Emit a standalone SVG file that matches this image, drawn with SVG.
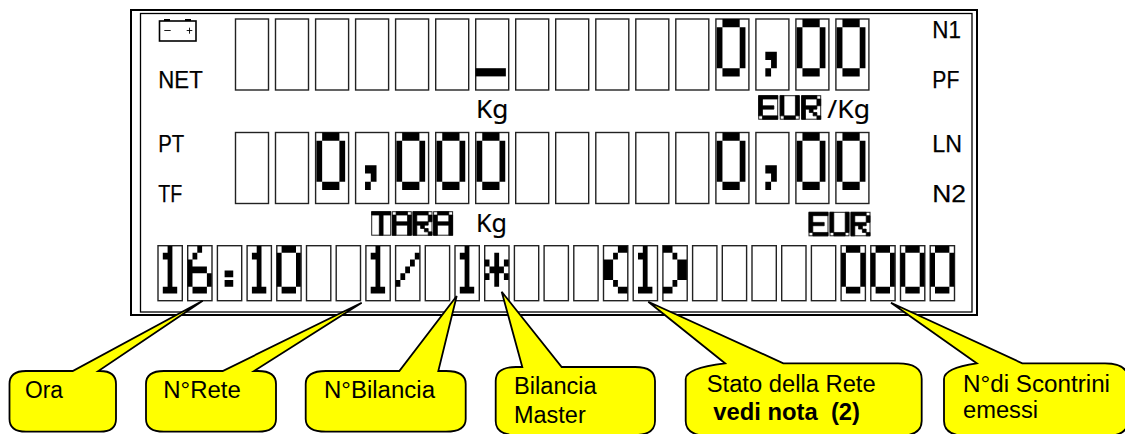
<svg xmlns="http://www.w3.org/2000/svg" width="1125" height="434" viewBox="0 0 1125 434">
<style>
.c{fill:#fff;stroke:#222;stroke-width:1.4}
.s{fill:none;stroke:#222;stroke-width:1}
.g{fill:#000}
.lcd{font-family:"Liberation Sans",Arial,sans-serif;font-size:24.5px;fill:#000;stroke:#000;stroke-width:.25}
.kg{font-family:"Noto Sans","Liberation Sans",sans-serif;font-size:24.5px;fill:#000;stroke:#000;stroke-width:.15}
.small{stroke:#000;stroke-width:.2}
.cal{fill:#ff0;stroke:#000;stroke-width:1.8;stroke-linejoin:miter}
.t{font-family:"Liberation Sans",Arial,sans-serif;font-size:23.5px;fill:#000;white-space:pre}
.b{font-weight:bold}
</style>
<defs>
<rect id="c1" width="33" height="71" class="c"/>
<rect id="c3" width="24.3" height="55" class="c"/>
<rect id="s" width="19" height="23.5" class="s"/>
<path id="g0" class="g" d="M1 0h3v1h-3zM0 1h1v5h-1zM4 1h1v5h-1zM1 6h3v1h-3z"/>
<path id="g1" class="g" d="M2 0h1v1h-1zM1 1h2v1h-2zM2 2h1v4h-1zM1 6h3v1h-3z"/>
<path id="g6" class="g" d="M2 0h1v1h-1zM1 1h1v1h-1zM0 2h1v1h-1zM0 3h4v1h-4zM0 4h1v2h-1zM4 4h1v2h-1zM1 6h3v1h-3z"/>
<path id="gcolon" class="g" d="M1.5 3.6h1.8v1h-1.8zM1.5 5h1.8v1h-1.8z"/>
<path id="gslash" class="g" d="M4 1h1v1h-1zM3 2h1v1h-1zM2 3h1v1h-1zM1 4h1v1h-1zM0 5h1v1h-1z"/>
<path id="gstar" class="g" d="M2 1h1v5h-1zM0 2h1v1h-1zM4 2h1v1h-1zM1 3h1v1h-1zM3 3h1v1h-1zM0 4h1v1h-1zM4 4h1v1h-1z"/>
<path id="glp" class="g" d="M3 0h2v1h-2zM2 1h1v1h-1zM0 2h2v3h-2zM2 5h1v1h-1zM3 6h2v1h-2z"/>
<path id="grp" class="g" d="M0 0h2v1h-2zM2 1h1v1h-1zM3 2h2v3h-2zM2 5h1v1h-1zM0 6h2v1h-2z"/>
<path id="gcomma" class="g" d="M1.5 4h2v1h-2zM2.5 5h1v1h-1zM1.5 6h1v1h-1z"/>
<path id="gdash" class="g" d="M0 6h5.2v1h-5.2z"/>
<path id="gE" class="g" d="M0 0h5v1h-5zM0 1h1v5h-1zM1 3h3v1h-3zM1 6h4v1h-4z"/>
<path id="gU" class="g" d="M0 0h1v6h-1zM4 0h1v6h-1zM1 6h3v1h-3z"/>
<path id="gR" class="g" d="M0 0h4v1h-4zM0 1h1v6h-1zM4 1h1v2h-1zM1 3h3v1h-3zM2 4h1v1h-1zM3 5h1v1h-1zM4 6h1v1h-1z"/>
<path id="gA" class="g" d="M1 0h3v1h-3zM0 1h1v6h-1zM4 1h1v6h-1zM1 3h3v1h-3z"/>
<path id="gT" class="g" d="M0 0h5v1h-5zM2 1h1v6h-1z"/>
</defs>
<rect width="1125" height="434" fill="#fff"/>
<g id="frame">
<rect x="131" y="10" width="846" height="305" fill="#fff" stroke="#000" stroke-width="2"/>
<rect x="140.5" y="13.5" width="831.5" height="298.5" fill="none" stroke="#000" stroke-width="1.3"/>
</g>
<g id="battery">
<rect x="159.5" y="21" width="36.5" height="20" fill="#fff" stroke="#000" stroke-width="1.6"/>
<path d="M164 20h6M185 20h6" stroke="#000" stroke-width="2" fill="none"/>
<path d="M164.3 30.5h6.4M186.7 30.5h5.6M189.5 27.7v6" stroke="#000" stroke-width=".9" fill="none"/>
</g>
<g id="labels">
<text class="lcd" x="158.3" y="88.3" textLength="44.4" lengthAdjust="spacingAndGlyphs">NET</text>
<text class="lcd" x="158.3" y="151.7" textLength="26" lengthAdjust="spacingAndGlyphs">PT</text>
<text class="lcd" x="158.3" y="202.3" textLength="24" lengthAdjust="spacingAndGlyphs">TF</text>
<text class="lcd" x="932.3" y="37.7" textLength="28.7" lengthAdjust="spacingAndGlyphs">N1</text>
<text class="lcd" x="932.3" y="88.3" textLength="27" lengthAdjust="spacingAndGlyphs">PF</text>
<text class="lcd" x="932.3" y="151.7" textLength="29.7" lengthAdjust="spacingAndGlyphs">LN</text>
<text class="lcd" x="932.3" y="202.3" textLength="33.7" lengthAdjust="spacingAndGlyphs">N2</text>
<text class="kg" x="476" y="118.3" textLength="32.3" lengthAdjust="spacingAndGlyphs">Kg</text>
<text class="kg" x="827.3" y="118.3" textLength="42.7" lengthAdjust="spacingAndGlyphs">/Kg</text>
<text class="kg" x="476" y="231.7" textLength="31" lengthAdjust="spacingAndGlyphs">Kg</text>
</g>
<g id="row1">
<use href="#c1" x="235.5" y="19"/><use href="#c1" x="275.5" y="19"/><use href="#c1" x="315.6" y="19"/><use href="#c1" x="355.6" y="19"/><use href="#c1" x="395.6" y="19"/><use href="#c1" x="435.7" y="19"/><use href="#c1" x="475.7" y="19"/><use href="#c1" x="515.7" y="19"/><use href="#c1" x="555.7" y="19"/><use href="#c1" x="595.8" y="19"/><use href="#c1" x="635.8" y="19"/><use href="#c1" x="675.8" y="19"/><use href="#c1" x="715.9" y="19"/><use href="#c1" x="755.9" y="19"/><use href="#c1" x="795.9" y="19"/><use href="#c1" x="835.9" y="19"/>
<use href="#gdash" transform="translate(475.7 19) scale(5.8 8.2)"/>
<use href="#g0" transform="translate(716.7 19) scale(5.75 8.2)"/>
<use href="#gcomma" transform="translate(756.7 19) scale(5.75 8.2)"/>
<use href="#g0" transform="translate(796.7 19) scale(5.75 8.2)"/>
<use href="#g0" transform="translate(836.7 19) scale(5.75 8.2)"/>
</g>
<g id="row2">
<use href="#c1" x="235.5" y="132.5"/><use href="#c1" x="275.5" y="132.5"/><use href="#c1" x="315.6" y="132.5"/><use href="#c1" x="355.6" y="132.5"/><use href="#c1" x="395.6" y="132.5"/><use href="#c1" x="435.7" y="132.5"/><use href="#c1" x="475.7" y="132.5"/><use href="#c1" x="515.7" y="132.5"/><use href="#c1" x="555.7" y="132.5"/><use href="#c1" x="595.8" y="132.5"/><use href="#c1" x="635.8" y="132.5"/><use href="#c1" x="675.8" y="132.5"/><use href="#c1" x="715.9" y="132.5"/><use href="#c1" x="755.9" y="132.5"/><use href="#c1" x="795.9" y="132.5"/><use href="#c1" x="835.9" y="132.5"/>
<use href="#g0" transform="translate(316.4 132.5) scale(5.75 8.2)"/>
<use href="#gcomma" transform="translate(356.4 132.5) scale(5.75 8.2)"/>
<use href="#g0" transform="translate(396.4 132.5) scale(5.75 8.2)"/>
<use href="#g0" transform="translate(436.5 132.5) scale(5.75 8.2)"/>
<use href="#g0" transform="translate(476.5 132.5) scale(5.75 8.2)"/>
<use href="#g0" transform="translate(716.7 132.5) scale(5.75 8.2)"/>
<use href="#gcomma" transform="translate(756.7 132.5) scale(5.75 8.2)"/>
<use href="#g0" transform="translate(796.7 132.5) scale(5.75 8.2)"/>
<use href="#g0" transform="translate(836.7 132.5) scale(5.75 8.2)"/>
</g>
<g id="eur1">
<use href="#s" x="758.7" y="95.7"/><use href="#s" x="780.2" y="95.7"/><use href="#s" x="801.7" y="95.7"/>
<use href="#gE" class="small" transform="translate(758.7 95.7) scale(3.8 3.36)"/>
<use href="#gU" class="small" transform="translate(780.2 95.7) scale(3.8 3.36)"/>
<use href="#gR" class="small" transform="translate(801.7 95.7) scale(3.8 3.36)"/>
</g>
<g id="eur2">
<use href="#s" x="809" y="212.3"/><use href="#s" x="830" y="212.3"/><use href="#s" x="851" y="212.3"/>
<use href="#gE" class="small" transform="translate(809 212.3) scale(3.8 3.36)"/>
<use href="#gU" class="small" transform="translate(830 212.3) scale(3.8 3.36)"/>
<use href="#gR" class="small" transform="translate(851 212.3) scale(3.8 3.36)"/>
</g>
<g id="tara">
<use href="#s" x="371.7" y="211.7"/><use href="#s" x="392.3" y="211.7"/><use href="#s" x="413" y="211.7"/><use href="#s" x="433.6" y="211.7"/>
<use href="#gT" class="small" transform="translate(371.7 211.7) scale(3.8 3.36)"/>
<use href="#gA" class="small" transform="translate(392.3 211.7) scale(3.8 3.36)"/>
<use href="#gR" class="small" transform="translate(413 211.7) scale(3.8 3.36)"/>
<use href="#gA" class="small" transform="translate(433.6 211.7) scale(3.8 3.36)"/>
</g>
<g id="row3">
<use href="#c3" x="158" y="245.7"/><use href="#c3" x="187.7" y="245.7"/><use href="#c3" x="217.4" y="245.7"/><use href="#c3" x="247.1" y="245.7"/><use href="#c3" x="276.8" y="245.7"/><use href="#c3" x="306.5" y="245.7"/><use href="#c3" x="336.2" y="245.7"/><use href="#c3" x="365.9" y="245.7"/><use href="#c3" x="395.6" y="245.7"/><use href="#c3" x="425.3" y="245.7"/><use href="#c3" x="455" y="245.7"/><use href="#c3" x="484.7" y="245.7"/><use href="#c3" x="514.4" y="245.7"/><use href="#c3" x="544.1" y="245.7"/><use href="#c3" x="573.8" y="245.7"/><use href="#c3" x="603.5" y="245.7"/><use href="#c3" x="633.2" y="245.7"/><use href="#c3" x="662.9" y="245.7"/><use href="#c3" x="692.6" y="245.7"/><use href="#c3" x="722.3" y="245.7"/><use href="#c3" x="752" y="245.7"/><use href="#c3" x="781.7" y="245.7"/><use href="#c3" x="811.4" y="245.7"/><use href="#c3" x="841.1" y="245.7"/><use href="#c3" x="870.8" y="245.7"/><use href="#c3" x="900.5" y="245.7"/><use href="#c3" x="930.2" y="245.7"/>
<use href="#g1" transform="translate(158 246) scale(4.8 6.8)"/>
<use href="#g6" transform="translate(187.7 246) scale(4.8 6.8)"/>
<use href="#gcolon" transform="translate(217.4 246) scale(4.8 6.8)"/>
<use href="#g1" transform="translate(247.1 246) scale(4.8 6.8)"/>
<use href="#g0" transform="translate(276.8 246) scale(4.8 6.8)"/>
<use href="#g1" transform="translate(365.9 246) scale(4.8 6.8)"/>
<use href="#gslash" transform="translate(395.6 246) scale(4.8 6.8)"/>
<use href="#g1" transform="translate(455 246) scale(4.8 6.8)"/>
<use href="#gstar" transform="translate(484.7 246) scale(4.8 6.8)"/>
<use href="#glp" transform="translate(603.5 246) scale(4.8 6.8)"/>
<use href="#g1" transform="translate(633.2 246) scale(4.8 6.8)"/>
<use href="#grp" transform="translate(662.9 246) scale(4.8 6.8)"/>
<use href="#g0" transform="translate(841.1 246) scale(4.8 6.8)"/>
<use href="#g0" transform="translate(870.8 246) scale(4.8 6.8)"/>
<use href="#g0" transform="translate(900.5 246) scale(4.8 6.8)"/>
<use href="#g0" transform="translate(930.2 246) scale(4.8 6.8)"/>
</g>
<g id="callout-ora">
<path class="cal" d="M26 371H72.7L202.7 300.7L98.3 371H100Q116 371 116 384V419Q116 431.7 100 431.7H26Q9.5 431.7 9.5 419V384Q9.5 371 26 371Z"/>
<text class="t" x="25" y="398.3" textLength="38" lengthAdjust="spacingAndGlyphs">Ora</text>
</g>
<g id="callout-rete">
<path class="cal" d="M164 371H222.7L361.7 302.7L254 371H258Q276 371 276 384V419Q276 431.7 258 431.7H164Q146 431.7 146 419V384Q146 371 164 371Z"/>
<text class="t" x="163.3" y="398.3" textLength="77.4" lengthAdjust="spacingAndGlyphs">N°Rete</text>
</g>
<g id="callout-bilancia">
<path class="cal" d="M326 371H399.3L456.7 296L438.3 371H446Q465.7 371 465.7 384V419Q465.7 431.7 446 431.7H326Q305.7 431.7 305.7 419V384Q305.7 371 326 371Z"/>
<text class="t" x="324" y="398.3" textLength="111" lengthAdjust="spacingAndGlyphs">N°Bilancia</text>
</g>
<g id="callout-master">
<path class="cal" d="M516 367H522.3L501.7 291.7L561.7 367H635Q655 367 655 381V421Q655 435 635 435H516Q495.7 435 495.7 421V381Q495.7 367 516 367Z"/>
<text class="t" x="514" y="394.3" textLength="82.7" lengthAdjust="spacingAndGlyphs">Bilancia</text>
<text class="t" x="514" y="422.7" textLength="71.7" lengthAdjust="spacingAndGlyphs">Master</text>
</g>
<g id="callout-stato">
<path class="cal" d="M725 363.3L648.3 301.7L783.3 363.3H898Q921.7 363.3 921.7 379V421Q921.7 436 898 436H710Q685.7 436 685.7 421V379Q685.7 368 725 363.3Z"/>
<text class="t" x="706.7" y="391.7" textLength="169" lengthAdjust="spacingAndGlyphs">Stato della Rete</text>
<text class="t b" x="713.3" y="420" textLength="146.7" lengthAdjust="spacingAndGlyphs">vedi nota  (2)</text>
</g>
<g id="callout-scontrini">
<path class="cal" d="M976.7 363.3L891 302.7L1022.3 363.3H1105Q1128 363.3 1128 379V421Q1128 436 1105 436H968Q944 436 944 421V379Q944 368 976.7 363.3Z"/>
<text class="t" x="963" y="391.7" textLength="147" lengthAdjust="spacingAndGlyphs">N°di Scontrini</text>
<text class="t" x="963" y="418.3" textLength="75" lengthAdjust="spacingAndGlyphs">emessi</text>
</g>
</svg>
